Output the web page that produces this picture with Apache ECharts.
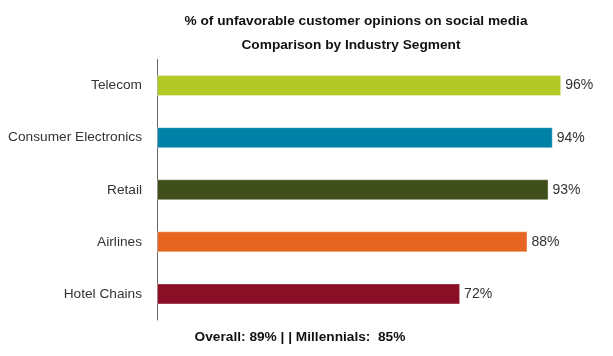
<!DOCTYPE html>
<html><head><meta charset="utf-8">
<script src="https://cdn.jsdelivr.net/npm/echarts@6/dist/echarts.min.js"></script>
<style>html,body{margin:0;padding:0;background:#fff}#c{width:613px;height:356px}</style>
</head><body><div id="c"></div>
<script>
const categories = ["Telecom", "Consumer Electronics", "Retail", "Airlines", "Hotel Chains"];
const values = [96, 94, 93, 88, 72];
const colors = ["#b2c925", "#0081a7", "#3f4e1a", "#e66521", "#8b0e27"];
const titleText = "% of unfavorable customer opinions on social media";
const subtitleText = "Comparison by Industry Segment";
const footerText = "Overall: 89% | | Millennials:  85%";

const chart = echarts.init(document.getElementById('c'));
const font = "'Liberation Sans', Arial, Helvetica, sans-serif";
const fs = 13.7;
chart.setOption({
  animation: false,
  title: [
    {text: titleText, left: 351, top: 9, textAlign: 'center',
     textStyle: {fontSize: fs, fontWeight: 'bold', color: '#111', fontFamily: font}},
    {text: subtitleText, left: 346, top: 33, textAlign: 'center',
     textStyle: {fontSize: fs, fontWeight: 'bold', color: '#111', fontFamily: font}},
    {text: footerText, left: 295, top: 325, textAlign: 'center',
     textStyle: {fontSize: fs, fontWeight: 'bold', color: '#111', fontFamily: font}}
  ],
  grid: {left: 157, top: 59.5, width: 421, height: 260.5, containLabel: false},
  xAxis: {type: 'value', min: 0, max: 100, show: false},
  yAxis: {
    type: 'category', data: categories, inverse: true,
    axisLine: {show: true, lineStyle: {color: '#666', width: 1}},
    axisTick: {show: false},
    axisLabel: {fontSize: fs, color: '#333', margin: 15, fontFamily: font}
  },
  series: [{
    type: 'bar', barWidth: 21,
    data: values.map((v, i) => ({value: v, itemStyle: {color: colors[i]}})),
    itemStyle: {borderColor: 'rgba(255,255,255,0.35)', borderWidth: 1},
    label: {show: true, position: 'right', distance: 4, formatter: '{c}%',
            fontSize: 14, color: '#333', fontFamily: font}
  }]
});
</script></body></html>
